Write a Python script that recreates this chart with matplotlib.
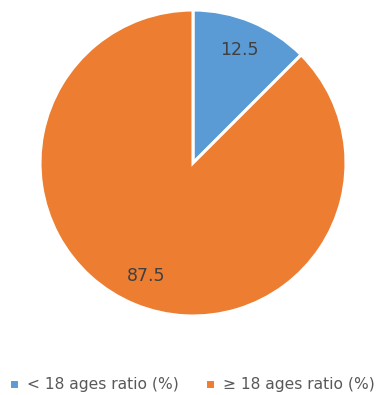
import matplotlib.pyplot as plt

labels = ['< 18 ages ratio (%)', '≥ 18 ages ratio (%)']
values = [12.5, 87.5]
colors = ['#5B9BD5', '#ED7D31']

fig = plt.figure(figsize=(3.84, 3.95), dpi=100)
ax = fig.add_axes([(193 - 153) / 384, (395 - 316) / 395, 306 / 384, 306 / 395])

wedges, texts, autotexts = ax.pie(
    values, colors=colors, startangle=90, counterclock=False,
    autopct=lambda p: f'{p:.1f}', pctdistance=0.8,
    wedgeprops=dict(edgecolor='white', linewidth=2.2),
    textprops=dict(color='#404040', fontsize=12.5),
)
ax.set_xlim(-1, 1)
ax.set_ylim(-1, 1)
ax.set_aspect('auto')

fig.legend(wedges, labels, loc='center left', bbox_to_anchor=(9 / 384, 10 / 395),
           ncol=2, frameon=False, fontsize=11.2, labelcolor='#595959',
           handlelength=0.65, handleheight=0.65, handletextpad=0.5, columnspacing=1.7,
           borderaxespad=0, borderpad=0)

fig.savefig('out.png', dpi=100)
